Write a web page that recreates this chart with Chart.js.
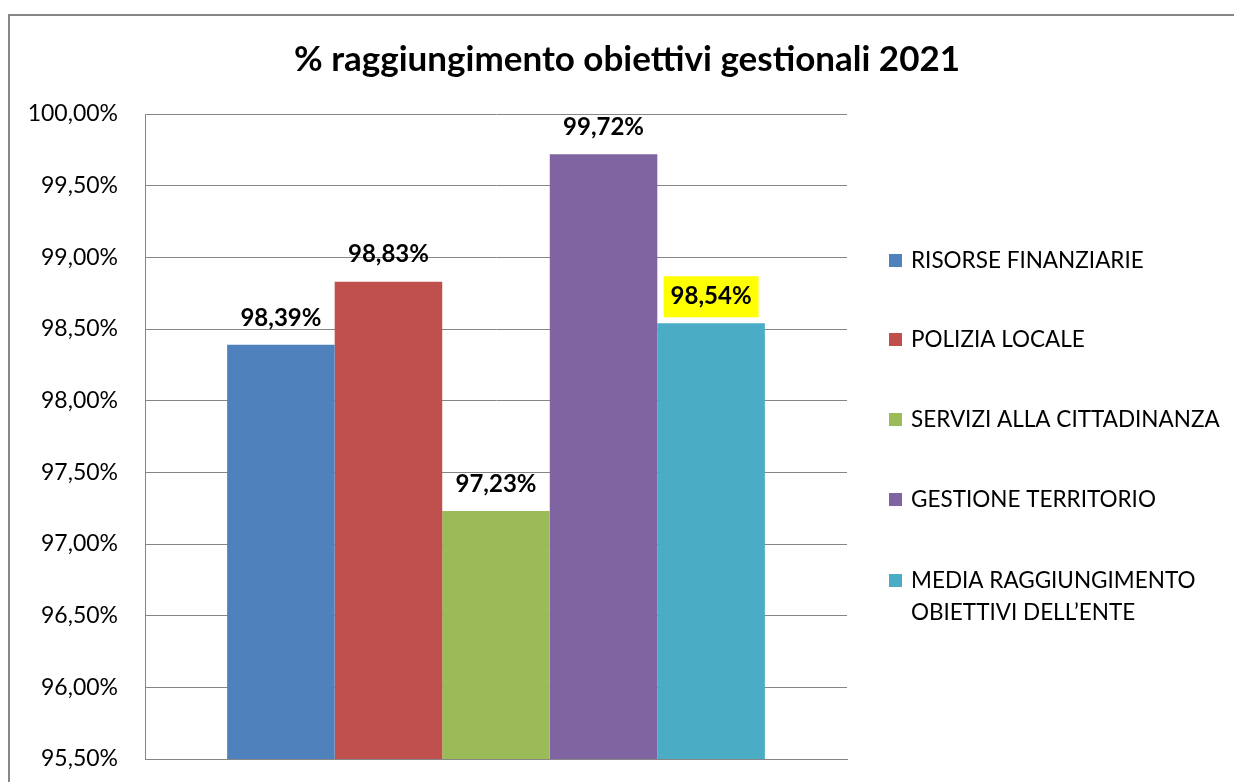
<!DOCTYPE html>
<html>
<head>
<meta charset="utf-8">
<title>% raggiungimento obiettivi gestionali 2021</title>
<script src="https://cdn.jsdelivr.net/npm/chart.js@4/dist/chart.umd.min.js"></script>
<style>
    body { margin: 0; background: #fff; }
    canvas { display: block; }
</style>
</head>
<body>
<canvas id="chart" width="1234" height="782"></canvas>
<script>
// Dati del grafico
const titleText = "% raggiungimento obiettivi gestionali 2021";
const categories = [""];
const seriesNames = [
    "RISORSE FINANZIARIE",
    "POLIZIA LOCALE",
    "SERVIZI ALLA CITTADINANZA",
    "GESTIONE TERRITORIO",
    ["MEDIA RAGGIUNGIMENTO", "OBIETTIVI DELL\u2019ENTE"]
];
const seriesValues = [98.39, 98.83, 97.23, 99.72, 98.54];
const seriesColors = ["#4F81BD", "#C0504D", "#9BBB59", "#8064A2", "#4BACC6"];
const yMin = 95.5;
const yMax = 100;
const yStep = 0.5;
const highlightedLabel = 4; // etichetta evidenziata in giallo

const FONT = "Lato, 'Open Sans', sans-serif";

function formatPercent(v) {
    return v.toFixed(2).replace(".", ",") + "%";
}

// Cornice, titolo, etichette dati e legenda
const decorPlugin = {
    id: "decor",
    beforeDraw(chart) {
        const ctx = chart.ctx;
        ctx.save();
        ctx.strokeStyle = "#878787";
        ctx.lineWidth = 2;
        ctx.strokeRect(9, 15, 1250, 800);
        ctx.restore();
    },
    afterDatasetsDraw(chart) {
        const ctx = chart.ctx;
        ctx.save();

        // Titolo
        ctx.fillStyle = "#000";
        ctx.font = "bold 35px " + FONT;
        ctx.textAlign = "center";
        ctx.textBaseline = "middle";
        ctx.fillText(titleText, 627, 60);

        // Etichette dati sopra le barre
        ctx.font = "bold 24px " + FONT;
        chart.data.datasets.forEach((ds, i) => {
            const bar = chart.getDatasetMeta(i).data[0];
            const text = formatPercent(ds.data[0]);
            const cy = bar.y - 27;
            if (i === highlightedLabel) {
                const w = ctx.measureText(text).width + 14;
                ctx.fillStyle = "#FFFF00";
                ctx.fillRect(bar.x - w / 2, cy - 20, w, 41);
            }
            ctx.fillStyle = "#000";
            ctx.fillText(text, bar.x, cy);
        });

        // Legenda
        ctx.font = "22.5px " + FONT;
        ctx.textAlign = "left";
        const legendY = [261, 340, 420, 500, 581];
        chart.data.datasets.forEach((ds, i) => {
            const y = legendY[i];
            ctx.fillStyle = ds.backgroundColor;
            ctx.fillRect(889, y - 7, 13, 13);
            ctx.fillStyle = "#000";
            const lines = Array.isArray(ds.label) ? ds.label : [ds.label];
            lines.forEach((line, j) => {
                ctx.fillText(line, 911, y + j * 32);
            });
        });

        ctx.restore();
    }
};

const ctx = document.getElementById("chart").getContext("2d");

new Chart(ctx, {
    type: "bar",
    data: {
        labels: categories,
        datasets: seriesValues.map((v, i) => ({
            label: seriesNames[i],
            data: [v],
            backgroundColor: seriesColors[i],
            borderWidth: 0,
            barPercentage: 1,
            categoryPercentage: 0.766
        }))
    },
    options: {
        responsive: false,
        animation: false,
        layout: {
            padding: { left: 20, right: 387, top: 114, bottom: 23 }
        },
        plugins: {
            legend: { display: false },
            title: { display: false },
            tooltip: { enabled: false }
        },
        scales: {
            x: {
                afterFit(scale) { scale.height = 0; },
                grid: { display: false },
                border: { display: true, color: "#868686", width: 1 },
                ticks: { display: false }
            },
            y: {
                min: yMin,
                max: yMax,
                afterFit(scale) {
                    scale.width = 125;
                    scale.paddingTop = 14;
                    scale.paddingBottom = 14;
                },
                ticks: {
                    stepSize: yStep,
                    padding: 27,
                    color: "#000",
                    font: { family: FONT, size: 23 },
                    callback: (v) => formatPercent(v)
                },
                grid: {
                    color: "#868686",
                    lineWidth: 1,
                    drawTicks: false
                },
                border: { display: true, color: "#868686", width: 1 }
            }
        }
    },
    plugins: [decorPlugin]
});
</script>
</body>
</html>
